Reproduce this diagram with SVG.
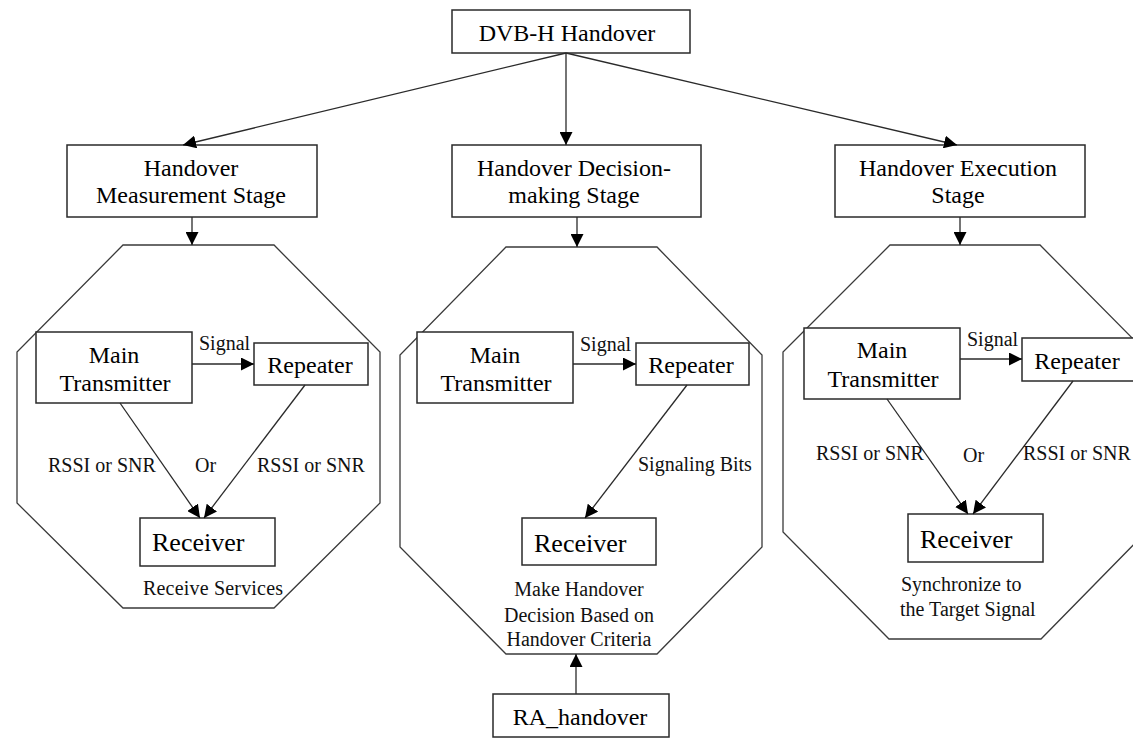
<svg xmlns="http://www.w3.org/2000/svg" width="1133" height="738" viewBox="0 0 1133 738">
  <style>
    .box { fill: #fff; stroke: #2a2a2a; stroke-width: 1.5; }
    .oct { fill: none; stroke: #3a3a3a; stroke-width: 1.3; }
    .edge { fill: none; stroke: #2a2a2a; stroke-width: 1.3; marker-end: url(#arrow); }
    .t24 { font-family: "Liberation Serif", "Times New Roman", serif; font-size: 24px; fill: #000; text-anchor: middle; }
    .t26 { font-family: "Liberation Serif", "Times New Roman", serif; font-size: 26px; fill: #000; }
    .t20 { font-family: "Liberation Serif", "Times New Roman", serif; font-size: 20px; fill: #111; }
    .mid { text-anchor: middle; }
  </style>
  <defs>
    <marker id="arrow" markerUnits="userSpaceOnUse" markerWidth="14" markerHeight="13" refX="13" refY="6.5" orient="auto">
      <path d="M0,0 L13,6.5 L0,13 z" fill="#000"/>
    </marker>
  </defs>

  <!-- stage containers -->
  <g id="stage-measurement-area">
    <polygon class="oct" points="123,245 274,245 380,352 380,503 274,608 123,608 17,503 17,352"/>
    <text class="t20" x="143" y="595" textLength="140">Receive Services</text>
  </g>
  <g id="stage-decision-area">
    <polygon class="oct" points="506,247 657,247 762,355 762,547 657,654 506,654 400,547 400,355"/>
    <text class="t20 mid" x="579" y="596">Make Handover</text>
    <text class="t20 mid" x="579" y="622">Decision Based on</text>
    <text class="t20 mid" x="579" y="646">Handover Criteria</text>
  </g>
  <g id="stage-execution-area">
    <polygon class="oct" points="890,245 1040,245 1146,352 1146,532 1041,639 889,639 783,532 783,352"/>
    <text class="t20" x="901" y="591">Synchronize to</text>
    <text class="t20" x="900" y="616">the Target Signal</text>
  </g>

  <!-- top level -->
  <g id="dvbh-handover">
    <rect class="box" x="452" y="10" width="238" height="43"/>
    <text class="t24" x="567" y="41">DVB-H Handover</text>
  </g>
  <g id="measurement-stage">
    <rect class="box" x="67" y="145" width="250" height="72"/>
    <text class="t24" x="191" y="176">Handover</text>
    <text class="t24" x="191" y="203">Measurement Stage</text>
  </g>
  <g id="decision-stage">
    <rect class="box" x="452" y="145" width="249" height="72"/>
    <text class="t24" x="574" y="176">Handover Decision-</text>
    <text class="t24" x="574" y="203">making Stage</text>
  </g>
  <g id="execution-stage">
    <rect class="box" x="835" y="145" width="250" height="72"/>
    <text class="t24" x="958" y="176">Handover Execution</text>
    <text class="t24" x="958" y="203">Stage</text>
  </g>

  <!-- measurement stage nodes -->
  <g id="m-main-tx">
    <rect class="box" x="36" y="332" width="156" height="71"/>
    <text class="t24" x="114" y="363">Main</text>
    <text class="t24" x="115" y="391">Transmitter</text>
  </g>
  <g id="m-repeater">
    <rect class="box" x="254" y="343" width="114" height="42"/>
    <text class="t24" x="310" y="373">Repeater</text>
  </g>
  <g id="m-receiver">
    <rect class="box" x="140" y="518" width="135" height="48"/>
    <text class="t26" x="152" y="551">Receiver</text>
  </g>

  <!-- decision stage nodes -->
  <g id="d-main-tx">
    <rect class="box" x="417" y="332" width="156" height="71"/>
    <text class="t24" x="495" y="363">Main</text>
    <text class="t24" x="496" y="391">Transmitter</text>
  </g>
  <g id="d-repeater">
    <rect class="box" x="636" y="343" width="113" height="42"/>
    <text class="t24" x="691" y="373">Repeater</text>
  </g>
  <g id="d-receiver">
    <rect class="box" x="522" y="518" width="134" height="47"/>
    <text class="t26" x="534" y="552">Receiver</text>
  </g>
  <g id="ra-handover">
    <rect class="box" x="493" y="694" width="176" height="43"/>
    <text class="t24" x="580" y="725">RA_handover</text>
  </g>

  <!-- execution stage nodes -->
  <g id="e-main-tx">
    <rect class="box" x="804" y="328" width="156" height="71"/>
    <text class="t24" x="882" y="358">Main</text>
    <text class="t24" x="883" y="387">Transmitter</text>
  </g>
  <g id="e-repeater">
    <rect class="box" x="1022" y="338" width="114" height="43"/>
    <text class="t24" x="1077" y="369">Repeater</text>
  </g>
  <g id="e-receiver">
    <rect class="box" x="908" y="514" width="135" height="48"/>
    <text class="t26" x="920" y="548">Receiver</text>
  </g>

  <!-- connectors -->
  <g id="connectors">
    <line class="edge" x1="566" y1="53" x2="183" y2="145"/>
    <line class="edge" x1="566" y1="53" x2="566" y2="145"/>
    <line class="edge" x1="566" y1="53" x2="957" y2="145"/>
    <line class="edge" x1="192" y1="217" x2="192" y2="245"/>
    <line class="edge" x1="577" y1="217" x2="577" y2="247"/>
    <line class="edge" x1="960" y1="217" x2="960" y2="245"/>

    <line class="edge" x1="192" y1="364" x2="254" y2="364"/>
    <line class="edge" x1="120" y1="403" x2="200" y2="518"/>
    <line class="edge" x1="305" y1="385" x2="204" y2="518"/>

    <line class="edge" x1="573" y1="364" x2="636" y2="364"/>
    <line class="edge" x1="687" y1="385" x2="585" y2="518"/>
    <line class="edge" x1="576" y1="694" x2="576" y2="654"/>

    <line class="edge" x1="960" y1="359" x2="1022" y2="359"/>
    <line class="edge" x1="887" y1="399" x2="968" y2="514"/>
    <line class="edge" x1="1073" y1="381" x2="973" y2="514"/>
  </g>

  <!-- connector labels -->
  <g id="connector-labels">
    <text class="t20" x="199" y="350">Signal</text>
    <text class="t20" x="48" y="472">RSSI or SNR</text>
    <text class="t20" x="195" y="472">Or</text>
    <text class="t20" x="257" y="472">RSSI or SNR</text>

    <text class="t20" x="580" y="351">Signal</text>
    <text class="t20" x="638" y="471">Signaling Bits</text>

    <text class="t20" x="967" y="346">Signal</text>
    <text class="t20" x="816" y="460">RSSI or SNR</text>
    <text class="t20" x="963" y="462">Or</text>
    <text class="t20" x="1023" y="460">RSSI or SNR</text>
  </g>
</svg>
